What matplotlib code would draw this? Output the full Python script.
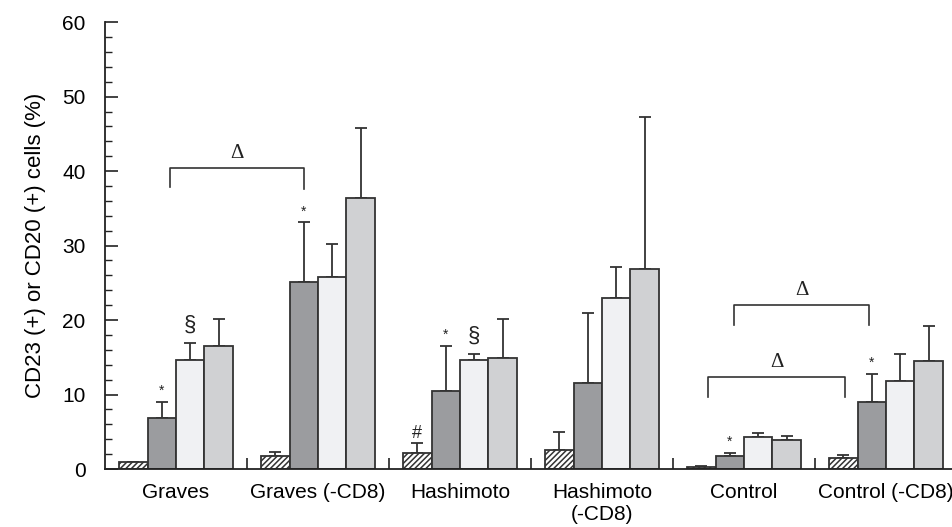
import numpy as np
import matplotlib.pyplot as plt

plt.rcParams['font.family'] = ['Liberation Sans', 'DejaVu Sans']
plt.rcParams['hatch.linewidth'] = 1.1
plt.rcParams['hatch.color'] = '#333333'

groups = ['Graves', 'Graves (-CD8)', 'Hashimoto', 'Hashimoto\n(-CD8)',
          'Control', 'Control (-CD8)']

# mean and upper error limit per group, one list per bar type
hatched = [0.9, 1.75, 2.1, 2.5, 0.3, 1.45]
hatched_top = [1.0, 2.3, 3.5, 5.0, 0.45, 1.95]
dark = [6.9, 25.1, 10.5, 11.6, 1.75, 9.0]
dark_top = [9.0, 33.1, 16.5, 20.9, 2.2, 12.8]
light = [14.7, 25.8, 14.7, 22.9, 4.3, 11.8]
light_top = [16.9, 30.2, 15.4, 27.1, 4.9, 15.4]
grey = [16.5, 36.4, 14.9, 26.8, 3.95, 14.5]
grey_top = [20.1, 45.8, 20.2, 47.2, 4.5, 19.2]

# significance marks: (group, bar index, symbol)
marks = [(0, 1, '*'), (0, 2, '§'), (1, 1, '*'), (2, 0, '#'), (2, 1, '*'),
         (2, 2, '§'), (4, 1, '*'), (5, 1, '*')]

# brackets: x left, x right, top, left leg end, right leg end
brackets = [(-0.04, 0.90, 40.4, 37.8, 37.6),
            (3.93, 4.88, 22.0, 19.3, 19.3),
            (3.75, 4.71, 12.3, 9.7, 9.7)]

fig = plt.figure(figsize=(9.53, 5.27), dpi=100)
ax = fig.add_axes([0.1102, 0.110, 0.8898, 0.848])

x = np.arange(len(groups))
w = 0.2
edge = '#333333'
series = [(hatched, hatched_top, 'white', '//////'),
          (dark, dark_top, '#9b9c9f', None),
          (light, light_top, '#f0f1f3', None),
          (grey, grey_top, '#d0d1d3', None)]

tops = []
for i, (vals, top, color, hatch) in enumerate(series):
    pos = x + (i - 1.5) * w
    vals = np.array(vals)
    top = np.array(top)
    ax.bar(pos, vals, width=w, color=color, edgecolor=edge, linewidth=1.3,
           hatch=hatch, zorder=2)
    ax.errorbar(pos, vals, yerr=[np.zeros_like(vals), top - vals], fmt='none',
                ecolor=edge, elinewidth=1.3, capsize=4, capthick=1.3, zorder=1)
    tops.append(top)

offsets = {'*': 1.5, '§': 2.4, '#': 1.3}
sizes = {'*': 10, '§': 16, '#': 13}
for g, b, sym in marks:
    ax.text(x[g] + (b - 1.5) * w, tops[b][g] + offsets[sym], sym,
            ha='center', va='center', fontsize=sizes[sym], color='#222222')

for x0, x1, yt, y0, y1 in brackets:
    ax.plot([x0, x0, x1, x1], [y0, yt, yt, y1], color='#333333', lw=1.2)
    ax.text((x0 + x1) / 2, yt + 2.0, 'Δ', ha='center', va='center',
            fontsize=15, family=['Liberation Serif', 'DejaVu Serif'],
            color='#222222')

ax.set_xlim(-0.5, 5.472)
ax.set_ylim(0, 60)
for s in ['top', 'right']:
    ax.spines[s].set_visible(False)
for s in ['left', 'bottom']:
    ax.spines[s].set_linewidth(1.3)
    ax.spines[s].set_color('#222222')

ax.set_yticks(np.arange(0, 61, 10))
ax.set_yticks(np.arange(0, 61, 2), minor=True)
ax.tick_params(axis='y', which='major', direction='in', length=9, width=1.2,
               labelsize=15, pad=14, color='#222222')
ax.tick_params(axis='y', which='minor', direction='in', length=5, width=1.0,
               color='#222222')

# group separators as major ticks, group names as minor tick labels
ax.set_xticks(x[:-1] + 0.5)
ax.set_xticklabels([])
ax.set_xticks(x, minor=True)
ax.set_xticklabels(groups, minor=True)
ax.tick_params(axis='x', which='major', direction='in', length=8, width=1.2,
               color='#222222')
ax.tick_params(axis='x', which='minor', length=0, labelsize=15, pad=10)

ax.set_ylabel('CD23 (+) or CD20 (+) cells (%)', fontsize=16, labelpad=12)

fig.savefig('out.png', dpi=100)
